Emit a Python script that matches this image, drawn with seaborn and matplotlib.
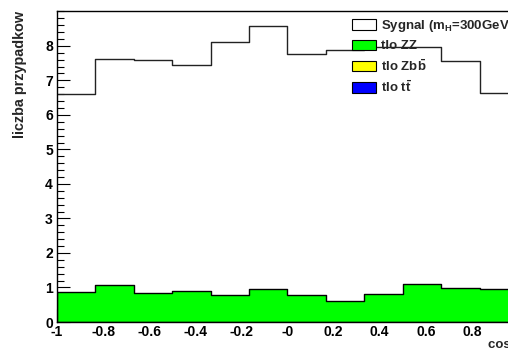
import numpy as np
import pandas as pd
import seaborn as sns
import matplotlib
matplotlib.use("Agg")
import matplotlib.pyplot as plt
from matplotlib.patches import Patch

# ---------------- data ----------------
bin_edges = [-1 + k / 6 for k in range(13)]          # 12 bins on [-1, 1]
bin_centers = [(bin_edges[i] + bin_edges[i + 1]) / 2 for i in range(12)]
signal = [6.61, 7.63, 7.60, 7.45, 8.11, 8.57, 7.77, 7.88, 7.96, 7.96, 7.57, 6.62]
bkg_zz = [0.87, 1.06, 0.85, 0.89, 0.79, 0.97, 0.79, 0.62, 0.81, 1.09, 0.98, 0.95]
bkg_zbb = [0.0] * 12
bkg_tt = [0.0] * 12
x_ticks = [-1, -0.8, -0.6, -0.4, -0.2, 0, 0.2, 0.4, 0.6, 0.8, 1]
x_tick_labels = ["-1", "-0.8", "-0.6", "-0.4", "-0.2", "-0", "0.2", "0.4", "0.6", "0.8", "1"]
y_ticks = [0, 1, 2, 3, 4, 5, 6, 7, 8]
y_tick_labels = [str(v) for v in y_ticks]
legend_labels = ["Sygnal (m$_{\\rm H}$=300GeV)", "tlo ZZ", "tlo Zb$\\bar{\\rm b}$", "tlo t$\\bar{\\rm t}$"]
legend_colors = ["white", "#00ff00", "#ffff00", "#0000ff"]

df = pd.DataFrame({"cos": bin_centers, "signal": signal, "zz": bkg_zz,
                   "zbb": bkg_zbb, "tt": bkg_tt})

# ---------------- style ----------------
sns.set_style("white")
plt.rcParams["font.family"] = ["Liberation Sans", "DejaVu Sans"]
plt.rcParams["font.weight"] = "bold"
plt.rcParams["mathtext.fontset"] = "custom"
plt.rcParams["mathtext.rm"] = "Liberation Sans:bold"
plt.rcParams["mathtext.it"] = "Liberation Sans:bold:italic"
plt.rcParams["mathtext.bf"] = "Liberation Sans:bold"

W, H = 508, 351
fig = plt.figure(figsize=(W / 100, H / 100), dpi=100)
ax_left, ax_right, ax_bottom, ax_top = 57, 518, 322, 11
ax = fig.add_axes([ax_left / W, 1 - ax_bottom / H, (ax_right - ax_left) / W, (ax_bottom - ax_top) / H])

# backgrounds (zero) then ZZ, then signal outline
for col_name, col in [("tt", "#0000ff"), ("zbb", "#ffff00"), ("zz", "#00ff00")]:
    sns.histplot(data=df, x="cos", weights=col_name, bins=bin_edges, element="step", fill=True,
                 color=col, alpha=1, edgecolor="black", linewidth=1.0, ax=ax)
sns.histplot(data=df, x="cos", weights="signal", bins=bin_edges, element="step", fill=False,
             color="#222222", linewidth=1.0, ax=ax)

ax.set_xlim(-1, 1)
ax.set_ylim(0, 9.01)
ax.set_xticks(x_ticks)
ax.set_xticklabels(x_tick_labels)
ax.set_yticks(y_ticks)
ax.set_yticklabels(y_tick_labels)
ax.set_yticks(np.arange(0, 9.01, 0.2), minor=True)
ax.set_xticks(np.arange(-1, 1.001, 0.05), minor=True)
ax.set_axisbelow(True)
ax.tick_params(axis="both", which="both", direction="in", top=False, right=False,
               left=True, bottom=True, colors="black", labelsize=10)
ax.tick_params(axis="y", which="major", length=9.5, width=0.8, pad=3)
ax.tick_params(axis="y", which="minor", length=5, width=0.8)
ax.tick_params(axis="x", which="major", length=9.5, width=0.8, pad=2)
ax.tick_params(axis="x", which="minor", length=5, width=0.8)
for lab in ax.get_xticklabels() + ax.get_yticklabels():
    lab.set_fontweight("bold")
for sp in ax.spines.values():
    sp.set_color("black")
    sp.set_linewidth(1.0)

ax.set_ylabel("liczba przypadkow", fontsize=10.4, fontweight="bold", loc="top")
ax.yaxis.set_label_coords(-30 / (ax_right - ax_left), 1.0)
ax.set_xlabel("cos θ", fontsize=9.5, fontweight="bold", loc="right")
ax.xaxis.set_label_coords(1.0 + 4 / (ax_right - ax_left), -17 / (ax_bottom - ax_top))

handles = [Patch(facecolor=c, edgecolor="black", linewidth=0.8) for c in legend_colors]
fs = 9.5
leg = ax.legend(handles, legend_labels, loc="upper left",
                bbox_to_anchor=(352 / W, 1 - 18 / H), bbox_transform=fig.transFigure,
                frameon=False, fontsize=fs, borderpad=0, borderaxespad=0,
                handlelength=1.82, handleheight=0.85, handletextpad=0.4, labelspacing=0.42)
for t in leg.get_texts():
    t.set_fontweight("bold")

fig.savefig("out.png", dpi=100)
